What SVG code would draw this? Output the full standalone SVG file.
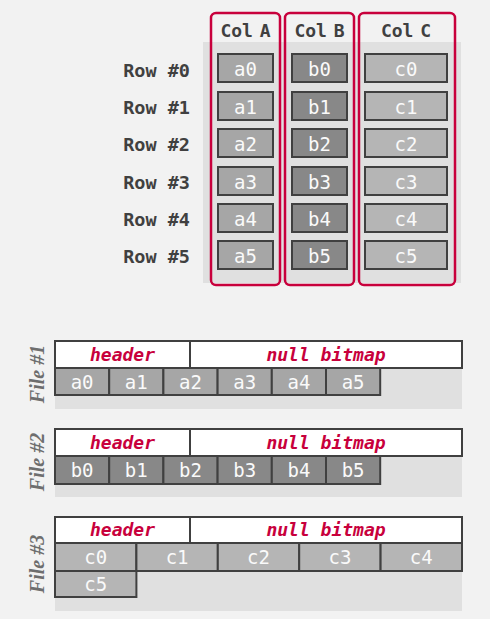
<svg xmlns="http://www.w3.org/2000/svg" width="490" height="619" viewBox="0 0 490 619">
<style>
.bg{fill:#f2f2f2}
.panel{fill:#e0e0e0}
.colbox{fill:none;stroke:#c8003c;stroke-width:2.5}
.cell{stroke:#404040;stroke-width:2}
.ca{fill:#a6a6a6}
.cb{fill:#888888}
.cc{fill:#b5b5b5}
.hdr{fill:#ffffff;stroke:#404040;stroke-width:2}
.ct{font-family:"DejaVu Sans Mono","Liberation Mono",monospace;font-size:19px;fill:#fafafa;text-anchor:middle}
.colt{font-family:"DejaVu Sans Mono","Liberation Mono",monospace;font-size:18px;font-weight:bold;fill:#404040;text-anchor:middle;word-spacing:-4px}
.rowt{font-family:"DejaVu Sans Mono","Liberation Mono",monospace;font-size:18.5px;font-weight:bold;fill:#404040;text-anchor:end}
.ht{font-family:"DejaVu Sans Mono","Liberation Mono",monospace;font-size:18px;font-weight:bold;font-style:italic;fill:#c8003c;text-anchor:middle}
.ft{font-family:"Liberation Serif",serif;font-size:20px;font-weight:bold;font-style:italic;fill:#6e6e6e;text-anchor:middle}
</style>
<rect class="bg" x="0" y="0" width="490" height="619"/>

<g id="table">
<rect class="panel" x="203" y="42" width="258" height="241"/>
<g id="rowlabels">
<text class="rowt" x="190" y="77">Row #0</text>
<text class="rowt" x="190" y="114">Row #1</text>
<text class="rowt" x="190" y="151">Row #2</text>
<text class="rowt" x="190" y="189">Row #3</text>
<text class="rowt" x="190" y="226">Row #4</text>
<text class="rowt" x="190" y="263">Row #5</text>
</g>
<g id="colA">
<rect class="cell ca" x="218" y="54" width="55" height="28"/>
<rect class="cell ca" x="218" y="92" width="55" height="28"/>
<rect class="cell ca" x="218" y="129" width="55" height="28"/>
<rect class="cell ca" x="218" y="167" width="55" height="28"/>
<rect class="cell ca" x="218" y="204" width="55" height="28"/>
<rect class="cell ca" x="218" y="241" width="55" height="28"/>
<text class="ct" x="245.5" y="76">a0</text>
<text class="ct" x="245.5" y="114">a1</text>
<text class="ct" x="245.5" y="151">a2</text>
<text class="ct" x="245.5" y="189">a3</text>
<text class="ct" x="245.5" y="226">a4</text>
<text class="ct" x="245.5" y="263">a5</text>
<rect class="colbox" x="211" y="13" width="69" height="272" rx="5"/>
<text class="colt" x="245.5" y="37">Col A</text>
</g>
<g id="colB">
<rect class="cell cb" x="292" y="54" width="55" height="28"/>
<rect class="cell cb" x="292" y="92" width="55" height="28"/>
<rect class="cell cb" x="292" y="129" width="55" height="28"/>
<rect class="cell cb" x="292" y="167" width="55" height="28"/>
<rect class="cell cb" x="292" y="204" width="55" height="28"/>
<rect class="cell cb" x="292" y="241" width="55" height="28"/>
<text class="ct" x="319.5" y="76">b0</text>
<text class="ct" x="319.5" y="114">b1</text>
<text class="ct" x="319.5" y="151">b2</text>
<text class="ct" x="319.5" y="189">b3</text>
<text class="ct" x="319.5" y="226">b4</text>
<text class="ct" x="319.5" y="263">b5</text>
<rect class="colbox" x="285" y="13" width="69" height="272" rx="5"/>
<text class="colt" x="319.5" y="37">Col B</text>
</g>
<g id="colC">
<rect class="cell cc" x="365" y="54" width="82" height="28"/>
<rect class="cell cc" x="365" y="92" width="82" height="28"/>
<rect class="cell cc" x="365" y="129" width="82" height="28"/>
<rect class="cell cc" x="365" y="167" width="82" height="28"/>
<rect class="cell cc" x="365" y="204" width="82" height="28"/>
<rect class="cell cc" x="365" y="241" width="82" height="28"/>
<text class="ct" x="406" y="76">c0</text>
<text class="ct" x="406" y="114">c1</text>
<text class="ct" x="406" y="151">c2</text>
<text class="ct" x="406" y="189">c3</text>
<text class="ct" x="406" y="226">c4</text>
<text class="ct" x="406" y="263">c5</text>
<rect class="colbox" x="359" y="13" width="96" height="272" rx="5"/>
<text class="colt" x="406" y="37">Col C</text>
</g>
</g>

<g id="file1">
<rect class="panel" x="55" y="368" width="407" height="41"/>
<rect class="hdr" x="55" y="341" width="407" height="27"/>
<line x1="190" y1="341" x2="190" y2="368" stroke="#404040" stroke-width="2"/>
<text class="ht" x="122.5" y="361">header</text>
<text class="ht" x="326" y="361">null bitmap</text>
<rect class="cell ca" x="55" y="368" width="54.2" height="27"/>
<rect class="cell ca" x="109.2" y="368" width="54.2" height="27"/>
<rect class="cell ca" x="163.4" y="368" width="54.2" height="27"/>
<rect class="cell ca" x="217.6" y="368" width="54.2" height="27"/>
<rect class="cell ca" x="271.8" y="368" width="54.2" height="27"/>
<rect class="cell ca" x="326" y="368" width="54.2" height="27"/>
<text class="ct" x="82.1" y="389">a0</text>
<text class="ct" x="136.3" y="389">a1</text>
<text class="ct" x="190.5" y="389">a2</text>
<text class="ct" x="244.7" y="389">a3</text>
<text class="ct" x="298.9" y="389">a4</text>
<text class="ct" x="353.1" y="389">a5</text>
<text class="ft" transform="translate(44,374) rotate(-90)">File #1</text>
</g>

<g id="file2">
<rect class="panel" x="55" y="456" width="407" height="41"/>
<rect class="hdr" x="55" y="429" width="407" height="27"/>
<line x1="190" y1="429" x2="190" y2="456" stroke="#404040" stroke-width="2"/>
<text class="ht" x="122.5" y="449">header</text>
<text class="ht" x="326" y="449">null bitmap</text>
<rect class="cell cb" x="55" y="456" width="54.2" height="28"/>
<rect class="cell cb" x="109.2" y="456" width="54.2" height="28"/>
<rect class="cell cb" x="163.4" y="456" width="54.2" height="28"/>
<rect class="cell cb" x="217.6" y="456" width="54.2" height="28"/>
<rect class="cell cb" x="271.8" y="456" width="54.2" height="28"/>
<rect class="cell cb" x="326" y="456" width="54.2" height="28"/>
<text class="ct" x="82.1" y="477">b0</text>
<text class="ct" x="136.3" y="477">b1</text>
<text class="ct" x="190.5" y="477">b2</text>
<text class="ct" x="244.7" y="477">b3</text>
<text class="ct" x="298.9" y="477">b4</text>
<text class="ct" x="353.1" y="477">b5</text>
<text class="ft" transform="translate(44,462) rotate(-90)">File #2</text>
</g>

<g id="file3">
<rect class="panel" x="55" y="543" width="407" height="68"/>
<rect class="hdr" x="55" y="517" width="407" height="26"/>
<line x1="190" y1="517" x2="190" y2="543" stroke="#404040" stroke-width="2"/>
<text class="ht" x="122.5" y="536">header</text>
<text class="ht" x="326" y="536">null bitmap</text>
<rect class="cell cc" x="55" y="543" width="81.4" height="28"/>
<rect class="cell cc" x="136.4" y="543" width="81.4" height="28"/>
<rect class="cell cc" x="217.8" y="543" width="81.4" height="28"/>
<rect class="cell cc" x="299.2" y="543" width="81.4" height="28"/>
<rect class="cell cc" x="380.6" y="543" width="81.4" height="28"/>
<rect class="cell cc" x="55" y="571" width="81.4" height="26"/>
<text class="ct" x="95.7" y="564">c0</text>
<text class="ct" x="177.1" y="564">c1</text>
<text class="ct" x="258.5" y="564">c2</text>
<text class="ct" x="339.9" y="564">c3</text>
<text class="ct" x="421.3" y="564">c4</text>
<text class="ct" x="95.7" y="591">c5</text>
<text class="ft" transform="translate(44,564) rotate(-90)">File #3</text>
</g>
</svg>
